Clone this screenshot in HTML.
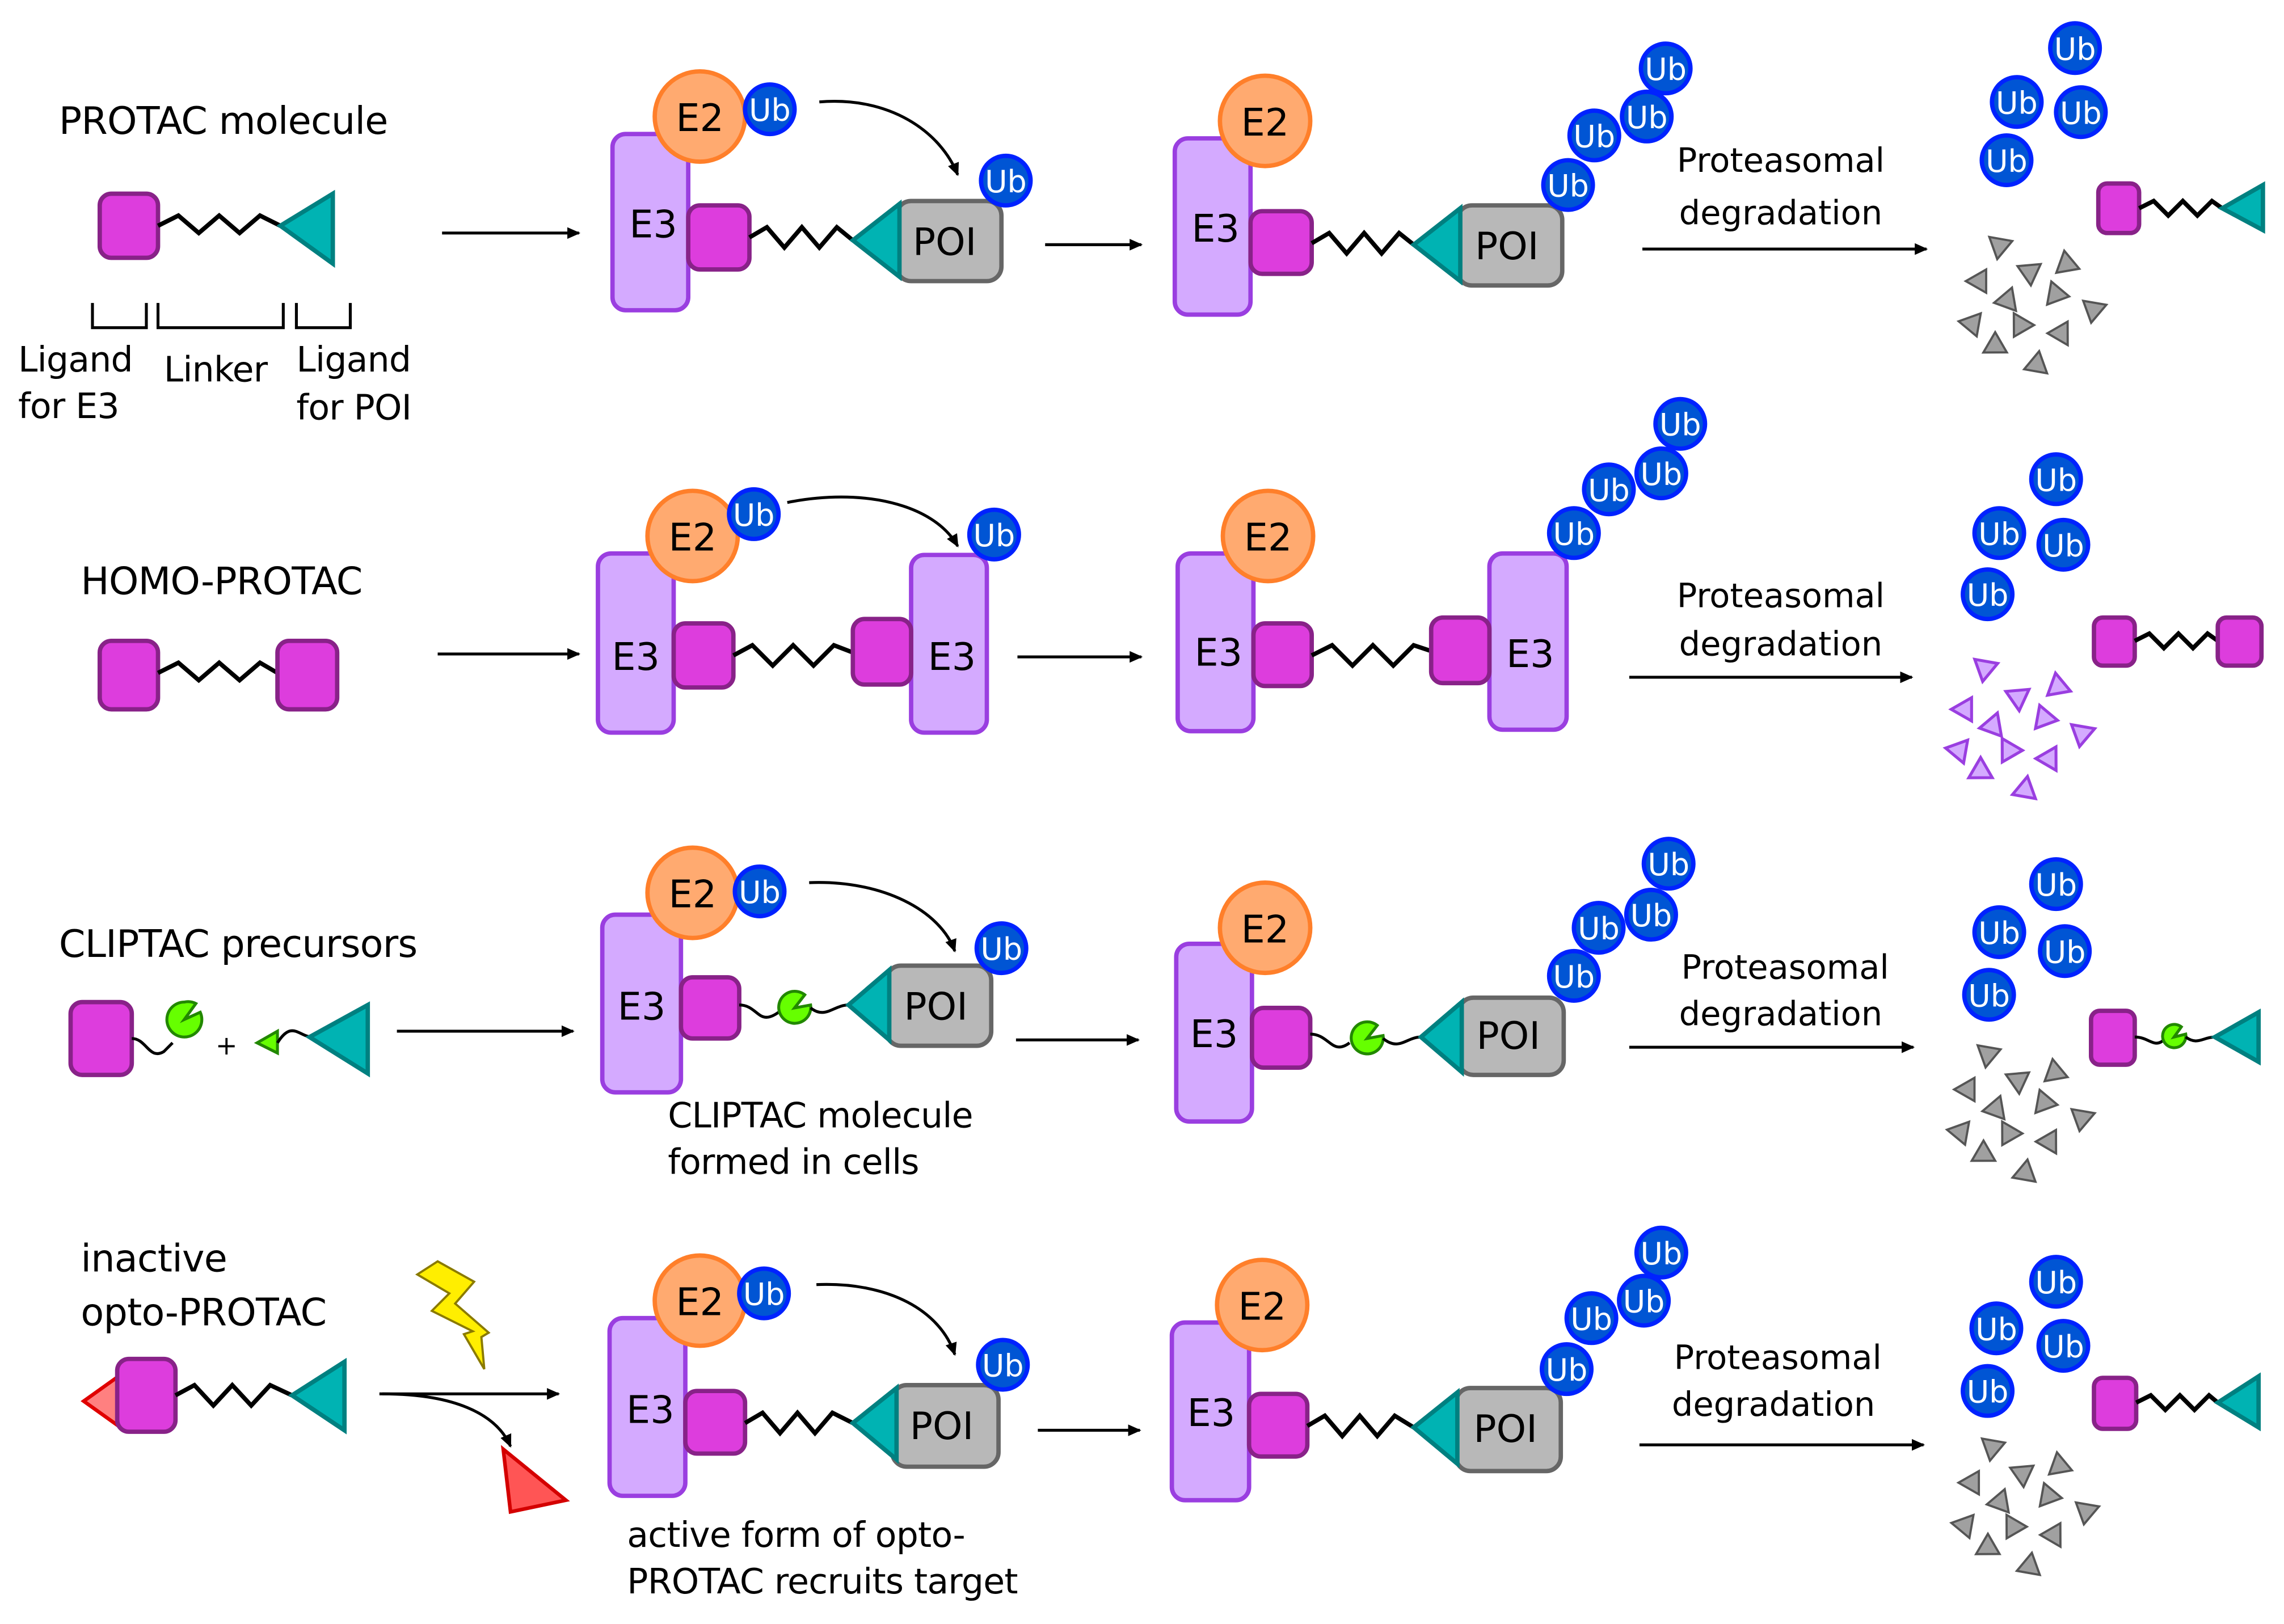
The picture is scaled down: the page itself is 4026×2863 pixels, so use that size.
<!DOCTYPE html>
<html><head><meta charset="utf-8"><style>
html,body{margin:0;padding:0;background:#fff;}
svg{display:block;}
text{font-family:"DejaVu Sans","Liberation Sans",sans-serif;}
</style></head><body>
<svg width="4026" height="2863" viewBox="0 0 1567 1115" xmlns="http://www.w3.org/2000/svg">
<defs>
<marker id="ah" markerWidth="10" markerHeight="10" refX="8" refY="5" orient="auto" markerUnits="userSpaceOnUse"><path d="M0,1 L9,5 L0,9 Z" fill="#000"/></marker>
<polygon id="gt" points="-8,-6 8,-6 0,8" fill="#a0a0a0" stroke="#555" stroke-width="1.5"/>
<polygon id="pt" points="-8,-6 8,-6 0,8" fill="#d4aaff" stroke="#9a3ee0" stroke-width="2"/>
<g id="gcl">
<use href="#gt" transform="translate(1372,170) rotate(10)"/>
<use href="#gt" transform="translate(1418,180) rotate(170)"/>
<use href="#gt" transform="translate(1393,188) rotate(-5)"/>
<use href="#gt" transform="translate(1357,193) rotate(90)"/>
<use href="#gt" transform="translate(1378,205) rotate(200)"/>
<use href="#gt" transform="translate(1410,203) rotate(40)"/>
<use href="#gt" transform="translate(1438,212) rotate(250)"/>
<use href="#gt" transform="translate(1352,222) rotate(100)"/>
<use href="#gt" transform="translate(1386,222) rotate(150)"/>
<use href="#gt" transform="translate(1415,230) rotate(-30)"/>
<use href="#gt" transform="translate(1368,238) rotate(60)"/>
<use href="#gt" transform="translate(1398,249) rotate(190)"/>
</g>
<g id="pcl">
<use href="#pt" transform="translate(1362,460) rotate(10)"/>
<use href="#pt" transform="translate(1412,470) rotate(170)"/>
<use href="#pt" transform="translate(1385,480) rotate(-5)"/>
<use href="#pt" transform="translate(1347,487) rotate(90)"/>
<use href="#pt" transform="translate(1368,497) rotate(200)"/>
<use href="#pt" transform="translate(1402,494) rotate(40)"/>
<use href="#pt" transform="translate(1430,503) rotate(250)"/>
<use href="#pt" transform="translate(1343,515) rotate(100)"/>
<use href="#pt" transform="translate(1378,514) rotate(150)"/>
<use href="#pt" transform="translate(1407,522) rotate(-30)"/>
<use href="#pt" transform="translate(1358,530) rotate(60)"/>
<use href="#pt" transform="translate(1390,541) rotate(190)"/>
</g>
</defs>
<style>
.e3{fill:#d4aaff;stroke:#9a3ee0;stroke-width:3}
.e2{fill:#ffaa70;stroke:#ff7f2a;stroke-width:3}
.ub{fill:#0055d4;stroke:#0022ff;stroke-width:3}
.mg{fill:#dd3ddd;stroke:#882288;stroke-width:3}
.tl{fill:#00b3b3;stroke:#008080;stroke-width:3}
.poi{fill:#b8b8b8;stroke:#666;stroke-width:3}
.zz{fill:none;stroke:#000;stroke-width:3}
.gr{fill:#66ff00;stroke:#228800;stroke-width:2}
.ar{fill:none;stroke:#000;stroke-width:2;marker-end:url(#ah)}
.lb{font-size:24px;fill:#000;letter-spacing:-0.3px}
.big{font-size:26px;fill:#000;letter-spacing:-0.3px}
.ut{font-size:21px;fill:#fff;text-anchor:middle}
.ct{font-size:26px;fill:#000;text-anchor:middle}
</style>

<!-- ROW 1 -->
<text class="big" x="40" y="92">PROTAC molecule</text>
<rect class="mg" x="68" y="133" width="40" height="44" rx="8"/>
<polyline class="zz" points="108,155 122,148 136,160 150,148 164,160 178,148 192,155"/>
<polygon class="tl" points="192,155 228,133 228,181"/>
<path d="M63,208 V225 H100 V208 M108,208 V225 H194 V208 M203,208 V225 H240 V208" fill="none" stroke="#000" stroke-width="2"/>
<text class="lb" x="12" y="255">Ligand</text><text class="lb" x="12" y="287">for E3</text>
<text class="lb" x="112" y="262">Linker</text>
<text class="lb" x="203" y="255">Ligand</text><text class="lb" x="203" y="288">for POI</text>
<line class="ar" x1="303" y1="160" x2="397" y2="160"/>

<rect class="e3" x="420" y="92" width="52" height="121" rx="9"/>
<circle class="e2" cx="480" cy="80" r="31"/><text class="ct" x="480" y="90">E2</text>
<text class="ct" x="448" y="163">E3</text>
<circle class="ub" cx="528" cy="75" r="17"/><text class="ut" x="528" y="83">Ub</text>
<rect class="mg" x="472" y="141" width="42" height="44" rx="8"/>
<polyline class="zz" points="514,163 526,156 538,170 550,156 562,170 574,156 585,165"/>
<rect class="poi" x="615" y="138" width="72" height="55" rx="10"/><text class="ct" x="648" y="175">POI</text>
<polygon class="tl" points="585,165 617,140 617,190"/>
<circle class="ub" cx="690" cy="124" r="17"/><text class="ut" x="690" y="132">Ub</text>
<path class="ar" d="M562,70 C610,66 645,90 657,120"/>
<line class="ar" x1="717" y1="168" x2="783" y2="168"/>

<rect class="e3" x="806" y="95" width="52" height="121" rx="9"/>
<circle class="e2" cx="868" cy="83" r="31"/><text class="ct" x="868" y="93">E2</text>
<text class="ct" x="834" y="166">E3</text>
<rect class="mg" x="858" y="145" width="42" height="43" rx="8"/>
<polyline class="zz" points="900,167 912,160 924,174 936,160 948,174 960,160 970,168"/>
<rect class="poi" x="1000" y="141" width="72" height="55" rx="10"/><text class="ct" x="1034" y="178">POI</text>
<polygon class="tl" points="970,168 1002,143 1002,193"/>
<circle class="ub" cx="1076" cy="127" r="17"/><text class="ut" x="1076" y="135">Ub</text>
<circle class="ub" cx="1094" cy="93" r="17"/><text class="ut" x="1094" y="101">Ub</text>
<circle class="ub" cx="1130" cy="80" r="17"/><text class="ut" x="1130" y="88">Ub</text>
<circle class="ub" cx="1143" cy="47" r="17"/><text class="ut" x="1143" y="55">Ub</text>
<text class="ct" x="1222" y="118" style="font-size:23px">Proteasomal</text>
<text class="ct" x="1222" y="154" style="font-size:23px">degradation</text>
<line class="ar" x1="1127" y1="171" x2="1322" y2="171"/>
<circle class="ub" cx="1424" cy="33" r="17"/><text class="ut" x="1424" y="41">Ub</text>
<circle class="ub" cx="1384" cy="70" r="17"/><text class="ut" x="1384" y="78">Ub</text>
<circle class="ub" cx="1428" cy="77" r="17"/><text class="ut" x="1428" y="85">Ub</text>
<circle class="ub" cx="1377" cy="110" r="17"/><text class="ut" x="1377" y="118">Ub</text>
<rect class="mg" x="1440" y="126" width="28" height="34" rx="6"/>
<polyline class="zz" points="1468,143 1478,138 1488,148 1498,138 1508,148 1518,138 1525,143"/>
<polygon class="tl" points="1525,143 1553,127 1553,158"/>
<use href="#gcl"/>

<!-- ROW 2 -->
<text class="big" x="55" y="408">HOMO-PROTAC</text>
<rect class="mg" x="68" y="440" width="40" height="47" rx="8"/>
<polyline class="zz" points="108,462 122,455 136,467 150,455 164,467 178,455 190,462"/>
<rect class="mg" x="190" y="440" width="41" height="47" rx="8"/>
<line class="ar" x1="300" y1="449" x2="397" y2="449"/>

<rect class="e3" x="410" y="380" width="52" height="123" rx="9"/>
<text class="ct" x="436" y="460">E3</text>
<circle class="e2" cx="475" cy="368" r="31"/><text class="ct" x="475" y="378">E2</text>
<circle class="ub" cx="517" cy="353" r="17"/><text class="ut" x="517" y="361">Ub</text>
<rect class="mg" x="462" y="428" width="41" height="44" rx="8"/>
<polyline class="zz" points="503,450 516,443 530,457 544,443 558,457 572,443 585,448"/>
<rect class="e3" x="625" y="381" width="52" height="122" rx="9"/>
<text class="ct" x="653" y="460">E3</text>
<rect class="mg" x="585" y="425" width="40" height="45" rx="8"/>
<circle class="ub" cx="682" cy="367" r="17"/><text class="ut" x="682" y="375">Ub</text>
<path class="ar" d="M540,345 C590,335 640,345 657,375"/>
<line class="ar" x1="698" y1="451" x2="783" y2="451"/>

<rect class="e3" x="808" y="380" width="52" height="122" rx="9"/>
<text class="ct" x="836" y="457">E3</text>
<circle class="e2" cx="870" cy="368" r="31"/><text class="ct" x="870" y="378">E2</text>
<rect class="mg" x="860" y="428" width="40" height="43" rx="8"/>
<polyline class="zz" points="900,450 914,443 928,457 942,443 956,457 970,443 982,447"/>
<rect class="e3" x="1022" y="380" width="53" height="121" rx="9"/>
<text class="ct" x="1050" y="458">E3</text>
<rect class="mg" x="982" y="424" width="40" height="45" rx="8"/>
<circle class="ub" cx="1080" cy="366" r="17"/><text class="ut" x="1080" y="374">Ub</text>
<circle class="ub" cx="1104" cy="336" r="17"/><text class="ut" x="1104" y="344">Ub</text>
<circle class="ub" cx="1140" cy="325" r="17"/><text class="ut" x="1140" y="333">Ub</text>
<circle class="ub" cx="1153" cy="291" r="17"/><text class="ut" x="1153" y="299">Ub</text>
<text class="ct" x="1222" y="417" style="font-size:23px">Proteasomal</text>
<text class="ct" x="1222" y="450" style="font-size:23px">degradation</text>
<line class="ar" x1="1118" y1="465" x2="1312" y2="465"/>
<circle class="ub" cx="1411" cy="329" r="17"/><text class="ut" x="1411" y="337">Ub</text>
<circle class="ub" cx="1372" cy="366" r="17"/><text class="ut" x="1372" y="374">Ub</text>
<circle class="ub" cx="1416" cy="374" r="17"/><text class="ut" x="1416" y="382">Ub</text>
<circle class="ub" cx="1364" cy="408" r="17"/><text class="ut" x="1364" y="416">Ub</text>
<rect class="mg" x="1437" y="424" width="28" height="33" rx="6"/>
<polyline class="zz" points="1465,440 1475,435 1485,445 1495,435 1505,445 1515,435 1522,440"/>
<rect class="mg" x="1522" y="424" width="30" height="33" rx="6"/>
<use href="#pcl"/>

<!-- ROW 3 -->
<text class="big" x="40" y="657">CLIPTAC precursors</text>
<rect class="mg" x="48" y="688" width="42" height="50" rx="8"/>
<path d="M90,713 C100,713 102,728 112,722 L118,716" fill="none" stroke="#000" stroke-width="2"/>
<path class="gr" d="M126,688 m0,0 a12,12 0 1 0 11,7 L126,700 L134,689 A12,12 0 0 0 126,688 Z"/>
<text class="ct" x="155" y="724" style="font-size:18px">+</text>
<polygon class="gr" points="176,716 190,708 190,723"/>
<path d="M190,716 C200,700 205,712 214,712" fill="none" stroke="#000" stroke-width="2"/>
<polygon class="tl" points="212,712 252,690 252,737"/>
<line class="ar" x1="272" y1="708" x2="393" y2="708"/>

<rect class="e3" x="413" y="628" width="54" height="122" rx="9"/>
<text class="ct" x="440" y="700">E3</text>
<circle class="e2" cx="475" cy="613" r="31"/><text class="ct" x="475" y="623">E2</text>
<circle class="ub" cx="521" cy="612" r="17"/><text class="ut" x="521" y="620">Ub</text>
<rect class="mg" x="467" y="671" width="40" height="42" rx="8"/>
<path d="M507,690 C520,690 520,705 534,695" fill="none" stroke="#000" stroke-width="2"/>
<path class="gr" d="M556,690 A11,11 0 1 1 552,683 L545,692 Z"/>
<path d="M556,692 C566,700 572,690 582,690" fill="none" stroke="#000" stroke-width="2"/>
<rect class="poi" x="608" y="663" width="72" height="55" rx="10"/><text class="ct" x="642" y="700">POI</text>
<polygon class="tl" points="582,690 610,666 610,714"/>
<circle class="ub" cx="687" cy="651" r="17"/><text class="ut" x="687" y="659">Ub</text>
<path class="ar" d="M555,606 C605,604 645,625 655,653"/>
<text class="lb" x="458" y="774">CLIPTAC molecule</text>
<text class="lb" x="458" y="806">formed in cells</text>
<line class="ar" x1="697" y1="714" x2="781" y2="714"/>

<rect class="e3" x="807" y="648" width="52" height="122" rx="9"/>
<text class="ct" x="833" y="719">E3</text>
<circle class="e2" cx="868" cy="637" r="31"/><text class="ct" x="868" y="647">E2</text>
<rect class="mg" x="859" y="692" width="40" height="41" rx="8"/>
<path d="M899,710 C912,710 914,725 926,716" fill="none" stroke="#000" stroke-width="2"/>
<path class="gr" d="M949,711 A11,11 0 1 1 945,704 L938,713 Z"/>
<path d="M949,713 C960,722 965,712 975,712" fill="none" stroke="#000" stroke-width="2"/>
<rect class="poi" x="1001" y="685" width="72" height="53" rx="10"/><text class="ct" x="1035" y="720">POI</text>
<polygon class="tl" points="975,712 1003,688 1003,736"/>
<circle class="ub" cx="1080" cy="670" r="17"/><text class="ut" x="1080" y="678">Ub</text>
<circle class="ub" cx="1097" cy="637" r="17"/><text class="ut" x="1097" y="645">Ub</text>
<circle class="ub" cx="1133" cy="628" r="17"/><text class="ut" x="1133" y="636">Ub</text>
<circle class="ub" cx="1145" cy="593" r="17"/><text class="ut" x="1145" y="601">Ub</text>
<text class="ct" x="1225" y="672" style="font-size:23px">Proteasomal</text>
<text class="ct" x="1222" y="704" style="font-size:23px">degradation</text>
<line class="ar" x1="1118" y1="719" x2="1313" y2="719"/>
<circle class="ub" cx="1411" cy="607" r="17"/><text class="ut" x="1411" y="615">Ub</text>
<circle class="ub" cx="1372" cy="640" r="17"/><text class="ut" x="1372" y="648">Ub</text>
<circle class="ub" cx="1417" cy="653" r="17"/><text class="ut" x="1417" y="661">Ub</text>
<circle class="ub" cx="1365" cy="683" r="17"/><text class="ut" x="1365" y="691">Ub</text>
<rect class="mg" x="1435" y="694" width="30" height="37" rx="6"/>
<path d="M1465,712 C1475,712 1478,720 1485,714" fill="none" stroke="#000" stroke-width="2"/>
<path class="gr" d="M1500,710 A8,8 0 1 1 1497,705 L1492,712 Z"/>
<path d="M1500,712 C1508,718 1512,712 1520,712" fill="none" stroke="#000" stroke-width="2"/>
<polygon class="tl" points="1520,712 1550,695 1550,729"/>
<use href="#gcl" transform="translate(-8,555)"/>

<!-- ROW 4 -->
<text class="big" x="55" y="873">inactive</text>
<text class="big" x="55" y="910">opto-PROTAC</text>
<polygon points="57,962 85,942 85,982" fill="#ff8080" stroke="#e00000" stroke-width="2.5"/>
<rect class="mg" x="80" y="933" width="40" height="50" rx="8"/>
<polyline class="zz" points="120,958 133,951 146,965 159,951 172,965 185,951 200,958"/>
<polygon class="tl" points="200,958 236,935 236,982"/>
<polygon points="300,866 325,880 312,895 335,915 330,918 332,940 318,916 324,914 296,900 308,888 286,875" fill="#ffee00" stroke="#8a7a00" stroke-width="1.5"/>
<line class="ar" x1="260" y1="957" x2="383" y2="957"/>
<path class="ar" d="M262,957 C310,957 340,970 350,993"/>
<polygon points="345,995 388,1030 350,1038" fill="#ff5555" stroke="#d40000" stroke-width="2.5"/>

<rect class="e3" x="418" y="905" width="52" height="122" rx="9"/>
<text class="ct" x="446" y="977">E3</text>
<circle class="e2" cx="480" cy="893" r="31"/><text class="ct" x="480" y="903">E2</text>
<circle class="ub" cx="524" cy="888" r="17"/><text class="ut" x="524" y="896">Ub</text>
<rect class="mg" x="470" y="955" width="41" height="43" rx="8"/>
<polyline class="zz" points="511,977 523,970 535,984 547,970 559,984 571,970 585,977"/>
<rect class="poi" x="612" y="951" width="73" height="56" rx="10"/><text class="ct" x="646" y="988">POI</text>
<polygon class="tl" points="585,977 615,953 615,1002"/>
<circle class="ub" cx="688" cy="937" r="17"/><text class="ut" x="688" y="945">Ub</text>
<path class="ar" d="M560,882 C610,880 645,900 655,930"/>
<text class="lb" x="430" y="1062">active form of opto-</text>
<text class="lb" x="430" y="1094">PROTAC recruits target</text>
<line class="ar" x1="712" y1="982" x2="782" y2="982"/>

<rect class="e3" x="804" y="908" width="53" height="122" rx="9"/>
<text class="ct" x="831" y="979">E3</text>
<circle class="e2" cx="866" cy="896" r="31"/><text class="ct" x="866" y="906">E2</text>
<rect class="mg" x="857" y="957" width="40" height="43" rx="8"/>
<polyline class="zz" points="897,979 909,972 921,986 933,972 945,986 957,972 970,980"/>
<rect class="poi" x="999" y="953" width="72" height="57" rx="10"/><text class="ct" x="1033" y="990">POI</text>
<polygon class="tl" points="970,980 1000,956 1000,1005"/>
<circle class="ub" cx="1075" cy="940" r="17"/><text class="ut" x="1075" y="948">Ub</text>
<circle class="ub" cx="1092" cy="905" r="17"/><text class="ut" x="1092" y="913">Ub</text>
<circle class="ub" cx="1128" cy="893" r="17"/><text class="ut" x="1128" y="901">Ub</text>
<circle class="ub" cx="1140" cy="860" r="17"/><text class="ut" x="1140" y="868">Ub</text>
<text class="ct" x="1220" y="940" style="font-size:23px">Proteasomal</text>
<text class="ct" x="1217" y="972" style="font-size:23px">degradation</text>
<line class="ar" x1="1125" y1="992" x2="1320" y2="992"/>
<circle class="ub" cx="1411" cy="880" r="17"/><text class="ut" x="1411" y="888">Ub</text>
<circle class="ub" cx="1370" cy="912" r="17"/><text class="ut" x="1370" y="920">Ub</text>
<circle class="ub" cx="1416" cy="924" r="17"/><text class="ut" x="1416" y="932">Ub</text>
<circle class="ub" cx="1364" cy="955" r="17"/><text class="ut" x="1364" y="963">Ub</text>
<rect class="mg" x="1437" y="946" width="29" height="35" rx="6"/>
<polyline class="zz" points="1466,963 1476,958 1486,968 1496,958 1506,968 1516,958 1522,963"/>
<polygon class="tl" points="1522,963 1550,945 1550,980"/>
<use href="#gcl" transform="translate(-5,825)"/>
</svg>
</body></html>
